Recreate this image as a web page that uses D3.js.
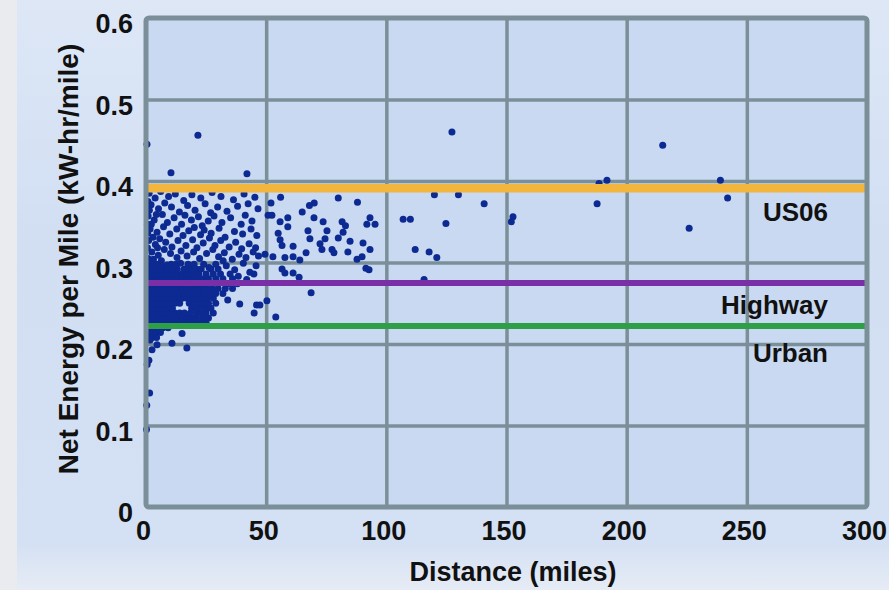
<!DOCTYPE html>
<html>
<head>
<meta charset="utf-8">
<script src="https://cdn.jsdelivr.net/npm/d3@7"></script>
<style>
  body { margin: 0; background: #ffffff; }
  text { font-family: "Liberation Sans", Arial, sans-serif; font-weight: bold; fill: #111; }
</style>
</head>
<body>
<svg width="889" height="590"></svg>
<script>
var svg = d3.select('svg');

var svgWidth = +svg.attr('width');
var svgHeight = +svg.attr('height');

var padding = {t: 18, r: 22, b: 83, l: 146};
var chartWidth = svgWidth - padding.l - padding.r;
var chartHeight = svgHeight - padding.t - padding.b;

// axis ticks
var xTicks = [0, 50, 100, 150, 200, 250, 300];
var yTicks = [0, 0.1, 0.2, 0.3, 0.4, 0.5, 0.6];
var yTickLabels = ['0', '0.1', '0.2', '0.3', '0.4', '0.5', '0.6'];

// drive-cycle reference lines
var refNames = ['US06', 'Highway', 'Urban'];
var refValues = [0.391, 0.275, 0.222];

// solid core of short trips, typed row by row: [energy, [distances...]]
var coreRows = [
    [0.208, [0.8, 2.6, 4.4]],
    [0.214, [0.8, 2.5, 4.3, 6]],
    [0.220, [1, 3, 5, 7, 9.2]],
    [0.226, [0.8, 2.6, 4.4, 6.2, 8, 10, 12, 14, 16, 18, 20, 22.5, 25]],
    [0.232, [1, 3, 5, 7, 9, 11, 13, 15, 17, 19, 21, 23.5, 26]],
    [0.238, [0.8, 2.6, 4.4, 6.2, 8, 10, 12, 14, 16, 18.5, 21, 23, 25, 28]],
    [0.244, [1, 3, 5, 7, 9, 11, 19, 21, 23, 25, 27]],
    [0.250, [0.8, 2.6, 4.4, 6.2, 8, 10, 12, 14, 18, 20, 22, 24, 26, 29]],
    [0.256, [1, 3, 5, 7, 9, 11, 13, 15, 17, 19, 21, 23, 25.5, 28]],
    [0.262, [0.8, 2.6, 4.4, 6.2, 8, 10, 12, 14, 16, 18, 20, 22, 24, 26.5, 29, 32]],
    [0.268, [1, 3, 5, 7, 9, 11, 13, 15, 17, 19, 21, 23, 25, 27.5, 30, 33, 36]],
    [0.274, [0.8, 2.6, 4.4, 6.2, 8, 10, 12, 14, 16, 18, 20, 22, 24.5, 27, 30, 34, 38]],
    [0.280, [1, 3, 5, 7, 9, 11, 13, 15, 17, 19, 21.5, 24, 26, 29, 32, 36]],
    [0.286, [0.8, 2.6, 4.4, 6.2, 8, 10, 12.5, 15, 17, 19.5, 22, 25, 28, 31, 35]],
    [0.292, [1, 3, 5, 7, 9, 11, 13, 16, 18.5, 21, 23, 27, 30]],
    [0.298, [0.8, 2.6, 4.4, 6.2, 10.5, 12.5, 17.5, 20, 24, 29]]
];

// upper part of the short-trip cloud, [distance, energy]
var cloudPoints = [
    [1.3, 0.385], [3.8, 0.379], [6.1, 0.387], [9.4, 0.381], [12.2, 0.384], [15.7, 0.376], [19.1, 0.383],
    [22.8, 0.379], [27.5, 0.386], [31.2, 0.381], [36.4, 0.377], [40.8, 0.384], [45.3, 0.380],
    [2.1, 0.371], [5.2, 0.366], [7.8, 0.373], [10.6, 0.368], [13.9, 0.362], [17.3, 0.37], [20.4, 0.364],
    [24.6, 0.372], [26.9, 0.361], [29.8, 0.368], [33.7, 0.363], [38.1, 0.369], [42.5, 0.372], [46.6, 0.366],
    [0.9, 0.357], [3.4, 0.352], [6.8, 0.359], [8.9, 0.349], [11.7, 0.355], [14.8, 0.347], [16.2, 0.358],
    [18.9, 0.352], [21.8, 0.356], [23.4, 0.345], [25.9, 0.351], [28.3, 0.357], [31.6, 0.349], [35.2, 0.355],
    [39.6, 0.347], [41.3, 0.358], [44.1, 0.351],
    [1.7, 0.341], [4.6, 0.337], [7.3, 0.344], [9.9, 0.335], [12.8, 0.341], [15.4, 0.333], [17.8, 0.339],
    [20.1, 0.343], [22.7, 0.334], [24.2, 0.34], [27.1, 0.336], [30.4, 0.342], [32.9, 0.331], [36.8, 0.338],
    [40.2, 0.335], [43.7, 0.341], [46.1, 0.333],
    [1.1, 0.327], [3.9, 0.322], [5.7, 0.329], [8.2, 0.325], [10.8, 0.319], [13.3, 0.327], [16.6, 0.321],
    [19.4, 0.328], [21.2, 0.318], [23.8, 0.324], [26.4, 0.33], [28.7, 0.321], [31.1, 0.327], [34.6, 0.319],
    [37.3, 0.325], [39.8, 0.317], [42.9, 0.323], [45.6, 0.318],
    [2.4, 0.313], [5.1, 0.309], [7.6, 0.316], [10.2, 0.311], [12.9, 0.306], [14.6, 0.314], [17.1, 0.308],
    [19.8, 0.313], [22.3, 0.305], [25.2, 0.311], [27.8, 0.316], [30.2, 0.307], [32.6, 0.312], [35.9, 0.304],
    [38.7, 0.31], [41.6, 0.306], [44.6, 0.313], [46.8, 0.308],
    [0.6, 0.318], [2.9, 0.331], [0.7, 0.336], [2.2, 0.347], [4.8, 0.318], [1.4, 0.364], [3.1, 0.304],
    [6.4, 0.302], [8.8, 0.297], [0.9, 0.305], [0.6, 0.347], [4.3, 0.359], [0.8, 0.375],
    [33.4, 0.296], [36.9, 0.291], [40.5, 0.299], [43.2, 0.288], [45.8, 0.296], [38.4, 0.283], [41.9, 0.279],
    [44.9, 0.286], [14.4, 0.299], [26.2, 0.294], [32.1, 0.302], [15.8, 0.291]
];

// scattered trips, [distance, energy]
var scatterPoints = [
    [0.4, 0.445], [10.4, 0.41], [21.6, 0.456], [42, 0.409],
    [4.6, 0.199], [10.8, 0.201], [15, 0.213], [17, 0.195], [2.5, 0.193], [1.7, 0.205], [5.8, 0.217], [7.9, 0.223],
    [1.2, 0.18], [0.5, 0.175], [1.5, 0.14], [0.3, 0.125], [0.2, 0.095],
    [23.7, 0.242], [24.5, 0.233], [34, 0.254], [39, 0.249], [46, 0.248], [45, 0.238],
    [47.4, 0.248], [50.3, 0.253], [54, 0.233], [68.7, 0.263],
    [56, 0.38], [52, 0.373], [80, 0.379], [88, 0.374], [68, 0.37], [70, 0.373], [65, 0.362],
    [50.8, 0.358], [52.4, 0.358], [69.9, 0.355], [59, 0.355], [55.8, 0.35], [73.7, 0.35],
    [81.6, 0.35], [83, 0.345], [93.2, 0.355], [95.3, 0.347], [91.9, 0.347], [59, 0.344],
    [67.4, 0.339], [75.3, 0.339], [82, 0.337], [55, 0.336], [80, 0.33], [68.2, 0.329],
    [74.5, 0.329], [84.9, 0.326], [90.3, 0.324], [55.8, 0.328], [56.6, 0.321], [61.2, 0.32],
    [72.4, 0.323], [73.2, 0.316], [77.4, 0.316], [78.2, 0.312], [84, 0.313], [93.2, 0.316],
    [66.6, 0.312], [49.5, 0.31], [52.8, 0.307], [57.8, 0.306], [61.2, 0.307], [64, 0.303],
    [87.8, 0.304], [89.9, 0.307], [91.5, 0.293], [92.8, 0.291], [56.6, 0.292], [57.8, 0.287],
    [61.2, 0.287], [63.7, 0.282],
    [107, 0.353], [110, 0.353], [112, 0.316], [117.8, 0.313], [121, 0.306], [115.7, 0.279],
    [120, 0.383], [130, 0.383], [140.7, 0.372], [124.8, 0.348], [152.7, 0.356], [152, 0.35],
    [127.3, 0.46], [215, 0.444], [239, 0.401], [191.8, 0.401], [188.5, 0.397], [187.7, 0.372],
    [242, 0.379], [226, 0.342]
];

var points = [];
coreRows.forEach(function(row) {
    row[1].forEach(function(d) { points.push([d, row[0]]); });
});
points = points.concat(cloudPoints, scatterPoints);

var refColors = {'US06': '#f2b53d', 'Highway': '#7b2fa6', 'Urban': '#2f9f47'};
var refWidths = {'US06': 8.5, 'Highway': 6, 'Urban': 6};
var refLabelDy = {'US06': 33, 'Highway': 31, 'Urban': 36};

var gridColor = '#7a8f98';

// background panel
var defs = svg.append('defs');
var grad = defs.append('linearGradient').attr('id', 'panel').attr('x1', 0).attr('y1', 0).attr('x2', 0).attr('y2', 1);
grad.append('stop').attr('offset', '0%').attr('stop-color', '#dde7f6');
grad.append('stop').attr('offset', '40%').attr('stop-color', '#d2dff3');
grad.append('stop').attr('offset', '92%').attr('stop-color', '#d4e0f3');
grad.append('stop').attr('offset', '100%').attr('stop-color', '#e6ecf5');

svg.append('rect').attr('width', svgWidth).attr('height', svgHeight).attr('fill', 'url(#panel)');
svg.append('rect').attr('width', 17).attr('height', svgHeight).attr('fill', '#e9ebee');

var xScale = d3.scaleLinear().domain([0, 300]).range([0, chartWidth]);
var yScale = d3.scaleLinear().domain([0, 0.6]).range([chartHeight, 0]);

var chartG = svg.append('g')
    .attr('transform', 'translate(' + [padding.l, padding.t] + ')');

chartG.append('rect')
    .attr('width', chartWidth)
    .attr('height', chartHeight)
    .attr('fill', '#c9d9f1');

// gridlines
var xGrid = chartG.append('g')
    .attr('transform', 'translate(0,' + chartHeight + ')')
    .call(d3.axisBottom(xScale).tickValues(xTicks.slice(1, -1)).tickSize(-chartHeight).tickFormat(''));
var yGrid = chartG.append('g')
    .call(d3.axisLeft(yScale).tickValues(yTicks.slice(1, -1)).tickSize(-chartWidth).tickFormat(''));
[xGrid, yGrid].forEach(function(g) {
    g.select('.domain').remove();
    g.selectAll('line').attr('stroke', gridColor).attr('stroke-width', 3.5);
});

// trips
chartG.append('g').selectAll('.dot')
    .data(points)
    .enter()
    .append('circle')
    .attr('class', 'dot')
    .attr('cx', function(d) { return xScale(d[0]); })
    .attr('cy', function(d) { return yScale(d[1]); })
    .attr('r', 3.5)
    .attr('fill', '#0d2a92');

// reference lines
chartG.selectAll('.ref')
    .data(refNames)
    .enter()
    .append('line')
    .attr('class', 'ref')
    .attr('x1', xScale(0))
    .attr('x2', xScale(300))
    .attr('y1', function(d, i) { return yScale(refValues[i]); })
    .attr('y2', function(d, i) { return yScale(refValues[i]); })
    .attr('stroke', function(d) { return refColors[d]; })
    .attr('stroke-width', function(d) { return refWidths[d]; });

chartG.selectAll('.ref-label')
    .data(refNames)
    .enter()
    .append('text')
    .attr('class', 'ref-label')
    .attr('x', xScale(300) - 39)
    .attr('y', function(d, i) { return yScale(refValues[i]) + refLabelDy[d]; })
    .attr('text-anchor', 'end')
    .style('font-size', '26px')
    .text(function(d) { return d; });

// frame
chartG.append('rect')
    .attr('width', chartWidth)
    .attr('height', chartHeight)
    .attr('rx', 3)
    .attr('fill', 'none')
    .attr('stroke', gridColor)
    .attr('stroke-width', 5);

// tick labels
var xAxis = chartG.append('g')
    .attr('transform', 'translate(0,' + chartHeight + ')')
    .call(d3.axisBottom(xScale).tickValues(xTicks).tickSize(0).tickPadding(14).tickFormat(d3.format('d')));
var yAxis = chartG.append('g')
    .call(d3.axisLeft(yScale).tickValues(yTicks).tickSize(0).tickPadding(13)
        .tickFormat(function(d, i) { return yTickLabels[i]; }));
[xAxis, yAxis].forEach(function(g) {
    g.select('.domain').remove();
    g.selectAll('text').style('font-size', '27px').style('font-family', '"Liberation Sans", Arial, sans-serif')
        .style('font-weight', 'bold').attr('fill', '#111');
});
xAxis.selectAll('text').attr('dx', -3);
yAxis.selectAll('text').attr('dy', '0.55em');

// axis titles
svg.append('text')
    .attr('x', 513)
    .attr('y', 581)
    .attr('text-anchor', 'middle')
    .style('font-size', '27px')
    .text('Distance (miles)');

svg.append('text')
    .attr('transform', 'translate(' + [78, 259] + ')rotate(-90)')
    .attr('text-anchor', 'middle')
    .style('font-size', '28px')
    .text('Net Energy per Mile (kW-hr/mile)');
</script>
</body>
</html>
